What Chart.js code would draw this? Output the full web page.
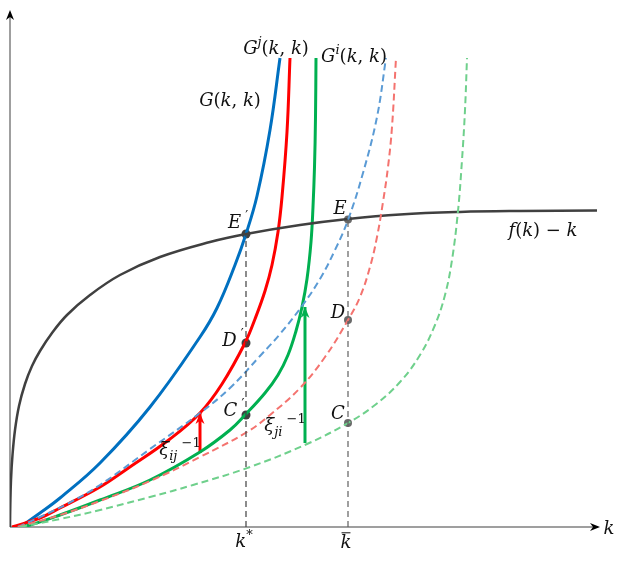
<!DOCTYPE html>
<html>
<head>
<meta charset="utf-8">
<script src="https://cdn.jsdelivr.net/npm/chart.js@4.4.1/dist/chart.umd.min.js"></script>
<style>
  html, body { margin: 0; padding: 0; background: #fff; }
  #c { display: block; }
</style>
</head>
<body>
<canvas id="c" width="629" height="562"></canvas>
<script>
'use strict'
/*----- data: [k, value] pairs (arbitrary units) -----*/
const G_sym   = [[10,0],[30,14],[50,29],[90,64],[140,120],[190,190],[207,219],[225,262],[236,293],[247,331],[260,397],[270,469]];
const G_j     = [[2,0],[30,9],[50,19],[90,40],[117,58],[160,88],[190,114],[212,143],[235,184],[245,208],[255,236],[262,262],[268,295],[272,330],[277,395],[280,469]];
const G_i     = [[8,0],[20,2],[50,12],[90,27],[140,47],[190,75],[220,97],[235,112],[255,134],[268,152],[278,172],[286,196],[292,220],[297,248],[301,285],[303,320],[304.5,360],[305.5,410],[306,469]];
const G_sym2  = [[8,0],[30,10],[57,23],[90,42],[140,78],[190,114],[220,139],[250,171],[270,193],[292,221],[310,248],[325,277],[338,307],[353,354],[367,410],[376,469]];
const G_j2    = [[8,0],[50,12],[90,26],[140,46],[190,70],[237,95],[260,112],[290,139],[315,170],[338,207],[350,230],[360,260],[367,290],[373,325],[378,360],[382,400],[386,469]];
const G_i2    = [[10,0],[50,8],[90,17],[140,30],[183,42],[240,60],[297,83],[338,104],[365,122],[390,145],[410,172],[425,202],[435,232],[442,267],[448,316],[452,367],[455,417],[457,469]];
const f_minus_k = [[0,0],[0.3,22],[1,47],[2.5,72],[5,97],[9,121],[15,143],[22,161],[30,176],[42,194],[57,212],[80,232],[110,252],[150,270],[200,285],[236,293],[290,302],[338,308],[390,312.5],[450,315],[510,316],[587,316.5]];

const kStar = 236, kBar = 338;
const pointsStar = [[kStar,293],[kStar,184],[kStar,112]];   // E', D', C'
const pointsBar  = [[kBar,307.5],[kBar,207],[kBar,104]];    // E, D, C
const xi_ij = [[190,74],[190,114]];
const xi_ji = [[295,84],[295,220]];

const pts = a => a.map(p => ({x: p[0], y: p[1]}));

function curve(data, color, width, dash) {
	return {
		data: pts(data), showLine: true, borderColor: color, borderWidth: width,
		borderDash: dash || [], pointRadius: 0, tension: 0.4, fill: false
	};
}

/*----- text helpers -----*/
const FONT = '"DejaVu Serif", "Liberation Serif", serif';
function rich(ctx, parts, cx, cy, size) {
	const fontOf = p => {
		const small = (p[1].indexOf('sup') === 0 || p[1].indexOf('sub') === 0);
		const it = (p[1] === 'i' || p[1] === 'supi' || p[1] === 'subi');
		return (it ? 'italic ' : '') + Math.round(small ? size * 0.72 : size) + 'px ' + FONT;
	};
	let w = 0;
	parts.forEach(p => { ctx.font = fontOf(p); w += ctx.measureText(p[0]).width; });
	let x = cx - w / 2;
	const base = cy + size * 0.35;
	ctx.textAlign = 'left';
	ctx.textBaseline = 'alphabetic';
	parts.forEach(p => {
		ctx.font = fontOf(p);
		let dy = 0;
		if (p[1].indexOf('sup') === 0) dy = -size * 0.45;
		if (p[1].indexOf('sub') === 0) dy = size * 0.28;
		ctx.fillText(p[0], x, base + dy);
		x += ctx.measureText(p[0]).width;
	});
	return {left: cx - w / 2, right: cx + w / 2, base: base};
}

const Gkk = [['(','n'],['k','i'],[', ','n'],['k','i'],[')','n']];
const labels = [
	{k:220, v:427, parts:[['G','i']].concat(Gkk)},
	{k:266, v:479, parts:[['G','i'],['j','supi']].concat(Gkk)},
	{k:344, v:471, parts:[['G','i'],['i','supi']].concat(Gkk)},
	{k:228, v:305, parts:[['E','i'],[' \u2032','supn']]},
	{k:330, v:319, parts:[['E','i']]},
	{k:223, v:187, parts:[['D','i'],[' \u2032','supn']]},
	{k:328, v:215, parts:[['D','i']]},
	{k:224, v:117, parts:[['C','i'],[' \u2032','supn']]},
	{k:328, v:114, parts:[['C','i']]},
	{k:533, v:297, parts:[['f','i'],['(','n'],['k','i'],[')','n'],[' \u2212 ','n'],['k','i']]},
	{k:234, v:-14, parts:[['k','i'],['*','supn']]},
	{k:599, v:-1,  parts:[['k','i']]},
	{k:170, v:78,  parts:[['\u03be','i'],['ij','subi'],[' \u22121','supn']]},
	{k:275, v:102, parts:[['\u03be','i'],['ji','subi'],[' \u22121','supn']]}
];

function arrowHead(ctx, x, y, dir, len, half, color) {
	ctx.save();
	ctx.fillStyle = color;
	ctx.translate(x, y);
	ctx.rotate(dir);
	ctx.beginPath();
	ctx.moveTo(0, 0);
	ctx.lineTo(-len, -half);
	ctx.lineTo(-len * 0.7, 0);
	ctx.lineTo(-len, half);
	ctx.closePath();
	ctx.fill();
	ctx.restore();
}

const overlay = {
	id: 'overlay',
	beforeDatasetsDraw(chart) {
		const {ctx, scales: {x, y}} = chart;
		const X0 = x.getPixelForValue(0), Y0 = y.getPixelForValue(0);
		ctx.save();
		ctx.strokeStyle = '#808080';
		ctx.lineWidth = 1.5;
		ctx.beginPath();
		ctx.moveTo(X0, Y0); ctx.lineTo(x.getPixelForValue(588), Y0);
		ctx.moveTo(X0, Y0); ctx.lineTo(X0, y.getPixelForValue(515));
		ctx.stroke();
		ctx.restore();
		arrowHead(ctx, x.getPixelForValue(590), Y0, 0, 10, 4, '#000');
		arrowHead(ctx, X0, y.getPixelForValue(517), -Math.PI / 2, 10, 4, '#000');
	},
	afterDatasetsDraw(chart) {
		const {ctx, scales: {x, y}} = chart;
		// arrow heads of the xi shifts
		arrowHead(ctx, x.getPixelForValue(xi_ij[1][0]), y.getPixelForValue(xi_ij[1][1]), -Math.PI / 2, 11, 4.5, '#ff0000');
		arrowHead(ctx, x.getPixelForValue(xi_ji[1][0]), y.getPixelForValue(xi_ji[1][1]), -Math.PI / 2, 11, 4.5, '#00b050');
		ctx.save();
		ctx.fillStyle = '#111';
		labels.forEach(l => rich(ctx, l.parts, x.getPixelForValue(l.k), y.getPixelForValue(l.v), 18));
		// k bar
		const r = rich(ctx, [['k','i']], x.getPixelForValue(kBar - 2), y.getPixelForValue(-15), 18);
		ctx.strokeStyle = '#111';
		ctx.lineWidth = 1;
		ctx.beginPath();
		ctx.moveTo(r.left + 1, r.base - 15.5);
		ctx.lineTo(r.right - 1, r.base - 15.5);
		ctx.stroke();
		ctx.restore();
	}
};

/*-----Chart-----*/
const ctx = document.getElementById('c');
new Chart(ctx, {
	type: 'scatter',
	data: {
		datasets: [
			{data: pts([[kStar,0],[kStar,293]]), showLine: true, borderColor: '#404040', borderWidth: 1.2, borderDash: [6,4], pointRadius: 0},
			{data: pts([[kBar,0],[kBar,307.5]]), showLine: true, borderColor: '#606060', borderWidth: 1.2, borderDash: [6,4], pointRadius: 0},
			curve(G_i2, '#6fd08c', 2, [7,4]),
			curve(G_j2, '#f4736f', 2, [7,4]),
			curve(G_sym2, '#5b9bd5', 2, [7,4]),
			curve(f_minus_k, '#404040', 2.5),
			curve(G_i, '#00b050', 3),
			curve(G_j, '#ff0000', 3),
			curve(G_sym, '#0070c0', 3),
			{data: pts(xi_ij), showLine: true, borderColor: '#ff0000', borderWidth: 3, pointRadius: 0},
			{data: pts(xi_ji), showLine: true, borderColor: '#00b050', borderWidth: 3, pointRadius: 0},
			{data: pts(pointsStar), showLine: false, pointRadius: 4.5, pointBackgroundColor: '#404040', pointBorderWidth: 0},
			{data: pts(pointsBar), showLine: false, pointRadius: 4, pointBackgroundColor: 'rgba(80,80,80,0.85)', pointBorderWidth: 0}
		]
	},
	options: {
		responsive: false,
		animation: false,
		layout: {padding: {left: 10, right: 29, top: 10, bottom: 35}},
		scales: {
			x: {type: 'linear', min: 0, max: 590, display: false},
			y: {type: 'linear', min: 0, max: 517, display: false}
		},
		plugins: {legend: {display: false}, tooltip: {enabled: false}}
	},
	plugins: [overlay]
});
</script>
</body>
</html>
